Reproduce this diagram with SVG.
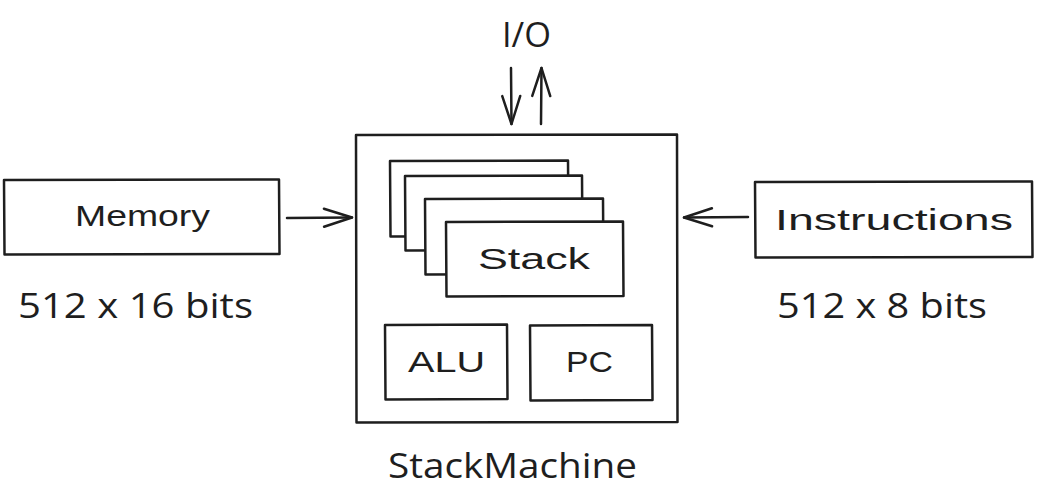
<svg xmlns="http://www.w3.org/2000/svg" width="1041" height="499" viewBox="0 0 1041 499">
  <style>
    .sk { fill: none; stroke: #1e1e1e; stroke-width: 2.5; stroke-linecap: round; stroke-linejoin: round; }
    .box { fill: #ffffff; stroke: #1e1e1e; stroke-width: 2.5; stroke-linejoin: round; }
    .hand { font-family: "Liberation Sans", "DejaVu Sans", sans-serif; font-size: 30px; fill: #1e1e1e; }
    .lbl { font-family: "Open Sans", "Noto Sans", sans-serif; font-size: 34px; fill: #1e1e1e; }
  </style>
  <defs>
    <marker id="ah" viewBox="0 0 32 24" refX="30" refY="12" markerWidth="32" markerHeight="24" markerUnits="userSpaceOnUse" orient="auto">
      <path d="M2,3 L30,12 L2,21" fill="none" stroke="#1e1e1e" stroke-width="2.5" stroke-linecap="round" stroke-linejoin="round"/>
    </marker>
  </defs>
  <rect width="1041" height="499" fill="#ffffff"/>

  <g id="stackmachine">
    <path class="box" d="M356,135 L677,134.5 L677.5,422 L356.5,422.5 Z"/>
    <text class="lbl" x="388" y="478" textLength="249" lengthAdjust="spacingAndGlyphs">StackMachine</text>
  </g>

  <g id="stack-layer-1">
    <path class="box" d="M390,161 L568,160.5 L568.5,236 L390.5,236.5 Z"/>
  </g>
  <g id="stack-layer-2">
    <path class="box" d="M405,176 L582,175.5 L582.5,250 L405.5,250.5 Z"/>
  </g>
  <g id="stack-layer-3">
    <path class="box" d="M425,199 L603,198.5 L603.5,274 L425.5,274.5 Z"/>
  </g>
  <g id="stack">
    <path class="box" d="M446,222 L623,221.5 L623.5,296 L446.5,296.5 Z"/>
    <text class="hand" x="478" y="269" textLength="112" lengthAdjust="spacingAndGlyphs">Stack</text>
  </g>

  <g id="alu">
    <path class="box" d="M385,325 L507,324.5 L507.5,399 L385.5,399.5 Z"/>
    <text class="hand" x="408" y="372" textLength="77" lengthAdjust="spacingAndGlyphs">ALU</text>
  </g>
  <g id="pc">
    <path class="box" d="M530,325.5 L652,325 L652.5,400 L530.5,400.5 Z"/>
    <text class="hand" x="566" y="372" textLength="47" lengthAdjust="spacingAndGlyphs">PC</text>
  </g>

  <g id="memory">
    <path class="box" d="M4,180 L279,179.5 L279.5,254 L4.5,254.5 Z"/>
    <text class="hand" x="75" y="226" textLength="135" lengthAdjust="spacingAndGlyphs">Memory</text>
    <text class="lbl" x="18" y="318" textLength="235" lengthAdjust="spacingAndGlyphs">512 x 16 bits</text>
  </g>

  <g id="instructions">
    <path class="box" d="M755,182 L1032,181.5 L1032.5,257 L755.5,257.5 Z"/>
    <text class="hand" x="775" y="230" textLength="238" lengthAdjust="spacingAndGlyphs">Instructions</text>
    <text class="lbl" x="777" y="318" textLength="210" lengthAdjust="spacingAndGlyphs">512 x 8 bits</text>
  </g>

  <g id="io">
    <text class="lbl" x="502" y="47" textLength="49" lengthAdjust="spacingAndGlyphs">I/O</text>
  </g>

  <g id="connectors">
    <path class="sk" d="M287,218 L352,217.5" marker-end="url(#ah)"/>
    <path class="sk" d="M748,217 L684,217.5" marker-end="url(#ah)"/>
    <path class="sk" d="M511,68 L511.5,124" marker-end="url(#ah)"/>
    <path class="sk" d="M541,124 L541.5,68" marker-end="url(#ah)"/>
  </g>
</svg>
